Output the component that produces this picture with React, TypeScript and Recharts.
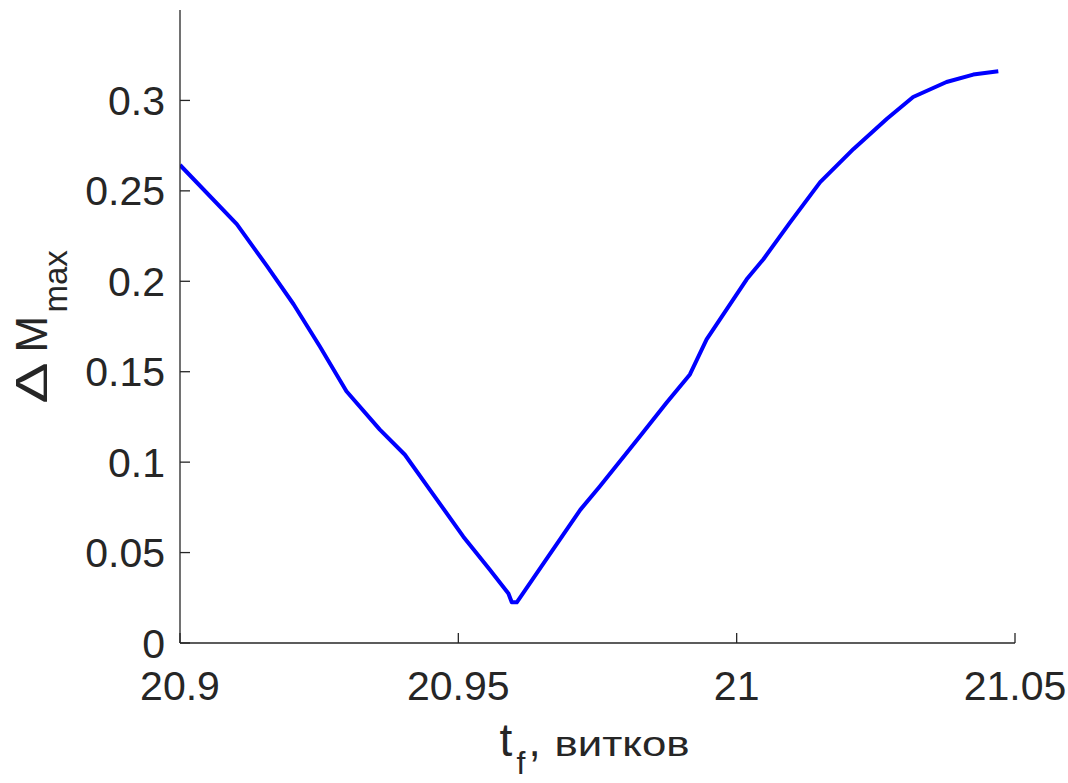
import React from "react";
import { LineChart, Line, XAxis, YAxis } from "recharts";

const tfValues = [
  20.9, 20.9102, 20.9156, 20.9204, 20.9251, 20.9299, 20.9359, 20.9404, 20.9449,
  20.9509, 20.9557, 20.959, 20.9596, 20.9605, 20.9653, 20.9719, 20.9754, 20.9826,
  20.9874, 20.9916, 20.9946, 21.0018, 21.0048, 21.0096, 21.015, 21.021, 21.027,
  21.0317, 21.0377, 21.0425, 21.047,
];
const dMmaxValues = [
  0.2643, 0.2316, 0.2085, 0.1873, 0.1641, 0.1392, 0.118, 0.1041, 0.0847,
  0.0588, 0.0403, 0.0274, 0.0225, 0.0225, 0.044, 0.0736, 0.0865, 0.1142,
  0.1328, 0.1485, 0.1679, 0.2011, 0.2122, 0.2326, 0.2548, 0.2732, 0.2899,
  0.3019, 0.3102, 0.3143, 0.3161,
];
const xTicks = [20.9, 20.95, 21, 21.05];
const yTicks = [0, 0.05, 0.1, 0.15, 0.2, 0.25, 0.3];

const data = tfValues.map((t, i) => ({ t, v: dMmaxValues[i] }));

const AXIS_COLOR = "#262626";
const FONT = "'Liberation Sans', Arial, Helvetica, sans-serif";
const TICK_FONT = 41;
const LABEL_FONT = 44;
const SUB_FONT = 33;
const TICK_LEN = 10;

const XTick = (props: any) => {
  const { x, y, payload } = props;
  return (
    <g>
      <line x1={x} y1={y} x2={x} y2={y - TICK_LEN} stroke={AXIS_COLOR} strokeWidth={1.3} />
      <text x={x} y={y + 57} textAnchor="middle" fill={AXIS_COLOR} fontSize={TICK_FONT} fontFamily={FONT}>
        {String(payload.value)}
      </text>
    </g>
  );
};

const YTick = (props: any) => {
  const { x, y, payload } = props;
  return (
    <g>
      <line x1={x + 15} y1={y} x2={x + 15 + TICK_LEN} y2={y} stroke={AXIS_COLOR} strokeWidth={1.3} />
      <text x={x} y={y + 14.5} textAnchor="end" fill={AXIS_COLOR} fontSize={TICK_FONT} fontFamily={FONT}>
        {String(payload.value)}
      </text>
    </g>
  );
};

const XLabel = (props: any) => {
  const vb = props.viewBox || { x: 180, y: 643, width: 835, height: 140 };
  const cx = vb.x + vb.width / 2;
  const by = vb.y + 113;
  return (
    <g fill={AXIS_COLOR} fontFamily={FONT}>
      <text x={cx - 98} y={by} fontSize={46}>t</text>
      <text x={cx - 81} y={by + 18} fontSize={32}>f</text>
      <text x={cx - 69} y={by} fontSize={LABEL_FONT}>,</text>
      <text x={cx - 43} y={by} fontSize={35} textLength={135} lengthAdjust="spacingAndGlyphs">витков</text>
    </g>
  );
};

const YLabel = (props: any) => {
  const vb = props.viewBox || { x: 0, y: 10, width: 180, height: 633 };
  const bx = vb.x + 47;
  const cy = vb.y + vb.height / 2;
  return (
    <g transform={`translate(${bx}, ${cy}) rotate(-90)`} fill={AXIS_COLOR} fontFamily={FONT}>
      <g transform="translate(-77, 0) scale(1.4, 1)">
        <text x={0} y={0} fontSize={LABEL_FONT}>Δ</text>
      </g>
      <text x={-26} y={0} fontSize={LABEL_FONT}>M</text>
      <text x={14} y={20} fontSize={SUB_FONT}>max</text>
    </g>
  );
};

export default function App() {
  return (
    <div style={{ position: "absolute", left: 0, top: 0, width: 1068, height: 783, background: "#fff", overflow: "hidden" }}>
      <style>{`.recharts-wrapper,.recharts-surface{overflow:visible !important}`}</style>
      <LineChart
        width={1068}
        height={783}
        data={data}
        margin={{ top: 10, right: 53, bottom: 0, left: 0 }}
        style={{ overflow: "visible" }}
      >
        <XAxis
          dataKey="t"
          type="number"
          domain={[20.9, 21.05]}
          ticks={xTicks}
          interval={0}
          height={140}
          tickSize={0}
          tickMargin={0}
          tickLine={false}
          axisLine={{ stroke: AXIS_COLOR, strokeWidth: 1.3 }}
          tick={<XTick />}
          allowDataOverflow
          label={{ content: <XLabel /> }}
        />
        <YAxis
          dataKey="v"
          type="number"
          domain={[0, 0.35]}
          ticks={yTicks}
          interval={0}
          width={180}
          tickSize={0}
          tickMargin={15}
          tickLine={false}
          axisLine={{ stroke: AXIS_COLOR, strokeWidth: 1.3 }}
          tick={<YTick />}
          allowDataOverflow
          label={{ content: <YLabel /> }}
        />
        <Line
          type="linear"
          dataKey="v"
          stroke="#0000FF"
          strokeWidth={4}
          dot={false}
          isAnimationActive={false}
          strokeLinejoin="round"
        />
      </LineChart>
    </div>
  );
}
